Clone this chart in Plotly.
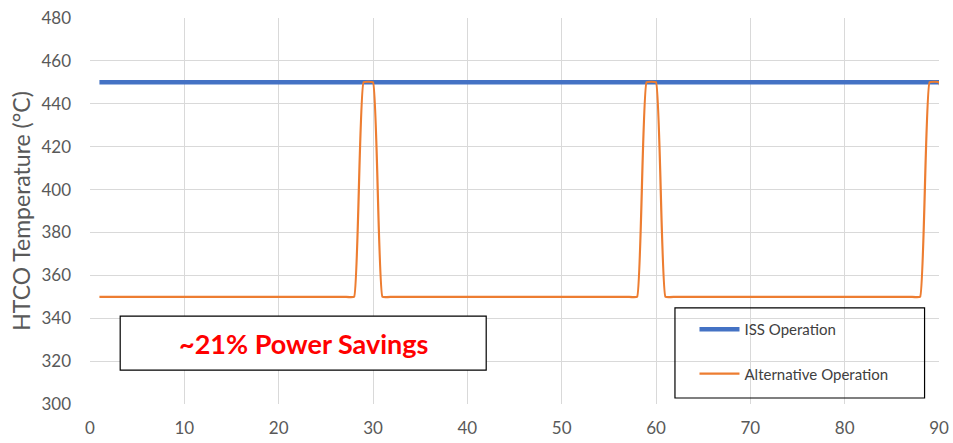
import plotly.graph_objects as go

# Time (minutes)
time_min = list(range(1, 92))

# ISS Operation temperature (°C)
iss_temp = [450] * 91

# Alternative Operation temperature (°C)
alt_temp = [
    350, 350, 350, 350, 350, 350, 350, 350, 350, 350,
    350, 350, 350, 350, 350, 350, 350, 350, 350, 350,
    350, 350, 350, 350, 350, 350, 350, 350, 450, 450,
    350, 350, 350, 350, 350, 350, 350, 350, 350, 350,
    350, 350, 350, 350, 350, 350, 350, 350, 350, 350,
    350, 350, 350, 350, 350, 350, 350, 350, 450, 450,
    350, 350, 350, 350, 350, 350, 350, 350, 350, 350,
    350, 350, 350, 350, 350, 350, 350, 350, 350, 350,
    350, 350, 350, 350, 350, 350, 350, 350, 450, 450,
    350,
]

x_ticks = [0, 10, 20, 30, 40, 50, 60, 70, 80, 90]
y_ticks = [300, 320, 340, 360, 380, 400, 420, 440, 460, 480]

FONT = "Lato"
GRAY = "#595959"
GRID = "#d9d9d9"

fig = go.Figure()
fig.add_trace(go.Scatter(
    x=time_min[:90], y=iss_temp[:90], mode="lines", name="ISS Operation",
    line=dict(color="#4472C4", width=4.5), legendgroup="a",
))
fig.add_trace(go.Scatter(
    x=time_min, y=alt_temp, mode="lines", name="Alternative Operation",
    line=dict(color="#ED7D31", width=2.2, shape="spline", smoothing=0.3),
    legendgroup="b",
))

fig.update_layout(
    width=953, height=443,
    margin=dict(l=90, r=14, t=18, b=39),
    paper_bgcolor="white", plot_bgcolor="white",
    font=dict(family=FONT, color=GRAY, size=17),
    xaxis=dict(range=[0, 90], tickvals=x_ticks, showgrid=True, gridcolor=GRID,
               gridwidth=1, zeroline=False, showline=False, ticks="",
               ticklabelstandoff=12, ticklabeloverflow="allow", automargin=False,
               tickfont=dict(size=17, color=GRAY)),
    yaxis=dict(range=[300, 480], tickvals=y_ticks, showgrid=True, gridcolor=GRID,
               gridwidth=1, zeroline=False, showline=False, ticks="",
               ticklabelstandoff=18, ticklabeloverflow="allow", automargin=False,
               tickfont=dict(size=17, color=GRAY),
               title=dict(text="HTCO Temperature (°C)", font=dict(size=23, color=GRAY),
                          standoff=4)),
    showlegend=True,
    legend=dict(x=0.712, y=0.236, xanchor="left", yanchor="top",
                bgcolor="rgba(0,0,0,0)", borderwidth=0,
                font=dict(size=15, color="#404040"), itemwidth=40,
                tracegroupgap=22, traceorder="grouped"),
    shapes=[
        dict(type="rect", xref="paper", yref="paper", x0=0.689, x1=0.983,
             y0=0.0155, y1=0.249, line=dict(color="black", width=1.2),
             fillcolor="rgba(0,0,0,0)", layer="above"),
        dict(type="rect", xref="x", yref="y", x0=3.2, x1=42.0, y0=315.8, y1=341.0,
             line=dict(color="black", width=1.2), fillcolor="white", layer="above"),
    ],
    annotations=[
        dict(x=22.6, y=328.4, xref="x", yref="y", text="<b>~21% Power Savings</b>",
             showarrow=False, font=dict(family=FONT, size=27, color="#FF0000")),
    ],
)

fig.write_html(
    "out.html",
    config={"displayModeBar": False},
    post_script="document.body.style.margin='0';document.body.style.overflow='hidden';",
)
